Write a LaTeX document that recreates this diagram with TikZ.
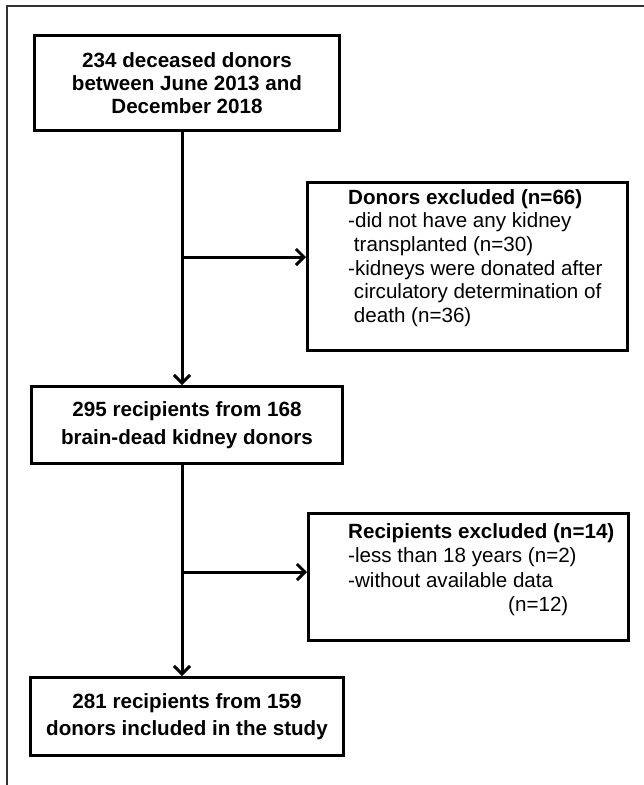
\documentclass[tikz,border=0pt]{standalone}
\usepackage{fontspec}
\setmainfont{Liberation Sans}
\usetikzlibrary{arrows.meta}
\begin{document}
\begin{tikzpicture}[x=1pt,y=-1pt,
  box/.style={draw, line width=3pt, inner sep=0pt},
  mainbox/.style={box, font=\fontsize{20.6}{23.3}\selectfont\bfseries, align=center},
  exbox/.style={box},
  extext/.style={inner sep=0pt, align=left, anchor=north west},
  arr/.style={line width=3pt, -{Straight Barb[length=8pt,width=16pt]}},
  frameline/.style={line width=1.5pt, draw=black!80}]
\useasboundingbox (0,0) rectangle (644,785);
\draw[frameline] (7,785) -- (7,6) -- (644,6);

\node[mainbox, minimum width=305, minimum height=95] (b1) at (187,83)
  {234 deceased donors\\between June 2013 and\\December 2018};
\node[mainbox, minimum width=311, minimum height=77,
  font=\fontsize{20.6}{28}\selectfont\bfseries] (b2) at (187,425)
  {295 recipients from 168\\brain-dead kidney donors};
\node[mainbox, minimum width=313, minimum height=78,
  font=\fontsize{20.6}{27}\selectfont\bfseries] (b3) at (187,716.5)
  {281 recipients from 159\\donors included in the study};

\node[exbox, minimum width=320, minimum height=168] (e1) at (467.5,266.5) {};
\node[extext, font=\fontsize{20.6}{23.7}\selectfont] (e1t) at (348,189)
  {\textbf{Donors excluded (n=66)}\\-did not have any kidney\\\hspace*{0.28em}transplanted (n=30)\\-kidneys were donated after\\\hspace*{0.28em}circulatory determination of\\\hspace*{0.28em}death (n=36)};

\node[exbox, minimum width=320, minimum height=127] (e2) at (468.5,577) {};
\node[extext, font=\fontsize{20.6}{24.5}\selectfont] (e2t) at (348,523)
  {\textbf{Recipients excluded (n=14)}\\-less than 18 years (n=2)\\-without available data\\\hspace*{160pt}(n=12)};

\coordinate (j1) at (182,257);
\coordinate (j2) at (182,572);
\draw[arr] (b1.south -| j1) -- (b2.north -| j1);
\draw[arr] (j1) -- (j1 -| e1.west);
\draw[arr] (b2.south -| j2) -- (b3.north -| j2);
\draw[arr] (j2) -- (j2 -| e2.west);
\end{tikzpicture}
\end{document}
